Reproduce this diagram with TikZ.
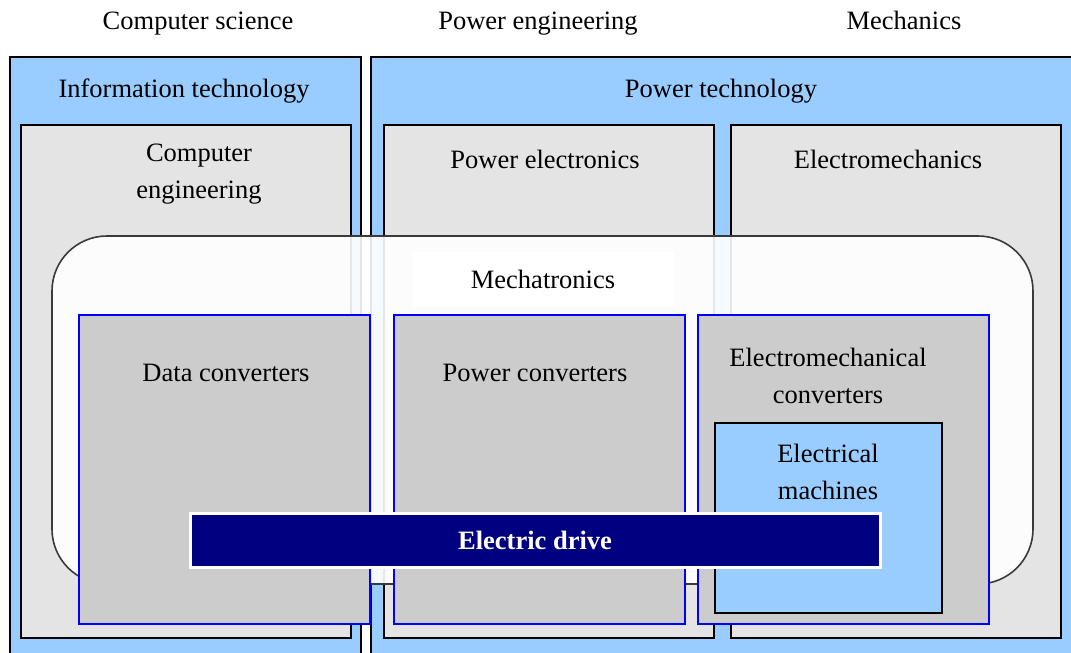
\documentclass[tikz,border=0pt]{standalone}
\usepackage{fontspec}
\setmainfont{Liberation Serif}
\usetikzlibrary{positioning}
\definecolor{techblue}{HTML}{99CCFF}
\definecolor{subjgray}{HTML}{E4E4E4}
\definecolor{convgray}{HTML}{CCCCCC}
\definecolor{drivenavy}{HTML}{000080}
\definecolor{mechline}{HTML}{3A3A3A}

\begin{document}
\begin{tikzpicture}[
    x=1pt, y=-1pt,
    every node/.style={inner sep=0pt, outer sep=0pt},
    field/.style={
        rectangle, draw=black, line width=1.6pt, fill=techblue,
        anchor=north west
    },
    subject/.style={
        rectangle, draw=black, line width=1.6pt, fill=subjgray,
        anchor=north west, minimum width=330pt, minimum height=513pt
    },
    mechbox/.style={
        rectangle, rounded corners=55pt, draw=mechline, line width=1.6pt,
        fill=white, fill opacity=0.9, anchor=north west
    },
    converter/.style={
        rectangle, draw=blue, line width=1.4pt, fill=convgray,
        anchor=north west, minimum width=291pt, minimum height=309pt
    },
    caption/.style={
        font=\fontsize{26.5}{37}\selectfont, align=center
    },
    oneline/.style={
        caption, text height=18pt, text depth=6pt
    },
    drivebar/.style={
        rectangle, draw=white, line width=3pt, fill=drivenavy,
        text=white, font=\fontsize{26.5}{37}\selectfont\bfseries,
        minimum width=690pt, minimum height=54pt
    }
]
\useasboundingbox (0,0) rectangle (1071,653);
\clip (0,0) rectangle (1071,653);

% disciplines on top
\node[oneline] (cs) at (198,23) {Computer science};
\node[oneline] (pe) at (538,23) {Power engineering};
\node[oneline] (mech) at (904,23) {Mechanics};

% technology fields
\node[field, minimum width=351pt, minimum height=640pt] (it) at (10,57) {};
\node[field, minimum width=740pt, minimum height=640pt] (pt) at (371,57) {};
\node[oneline] (itlabel) at (184,91) {Information technology};
\node[oneline] (ptlabel) at (721,91) {Power technology};

% subjects
\node[subject] (ce) at (21,125) {};
\node[subject] (pel) at (384,125) {};
\node[subject] (em) at (731,125) {};
\node[caption] (celabel) at (199,174) {Computer\\engineering};
\node[oneline] (pellabel) at (545,162) {Power electronics};
\node[oneline] (emlabel) at (888,162) {Electromechanics};

% mechatronics
\node[mechbox, minimum width=981pt, minimum height=348pt] (mt) at (52,236) {};
\node[rectangle, fill=white, minimum width=261pt, minimum height=55pt] (mtlabel) at (543,279) {\fontsize{26.5}{37}\selectfont Mechatronics};

% converters
\node[converter] (dc) at (79,315) {};
\node[converter] (pc) at (394,315) {};
\node[converter] (emc) at (698,315) {};
\node[oneline] (dclabel) at (226,375) {Data converters};
\node[oneline] (pclabel) at (535,375) {Power converters};
\node[caption] (emclabel) at (828,376) {Electromechanical\\converters};

% machines
\node[rectangle, draw=black, line width=1.6pt, fill=techblue, anchor=north west,
      minimum width=227pt, minimum height=190pt] (machines) at (715,423) {};
\node[caption] (machlabel) at (828,472) {Electrical\\machines};

% drive
\node[drivebar] (drive) at (535,540) {Electric drive};
\end{tikzpicture}
\end{document}
